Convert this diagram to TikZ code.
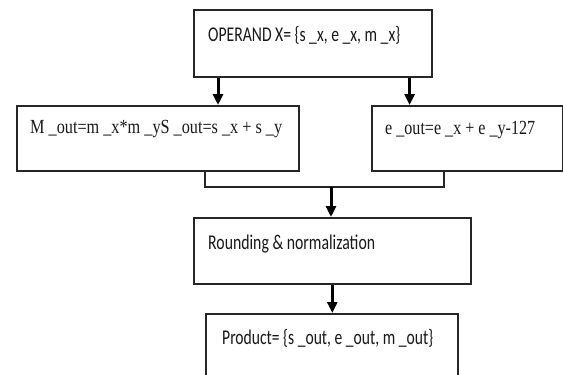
\documentclass[tikz,border=0pt]{standalone}
\usepackage{fontspec}
\usepackage{graphicx}
\setmainfont{Liberation Serif}
\newfontfamily\carlfont{Carlito}
\usetikzlibrary{arrows.meta,calc}
\tikzset{
  box/.style={draw=black!85, line width=1.6pt, rectangle, inner sep=0pt, anchor=north west},
  txt/.style={inner sep=0pt, anchor=base west, text=black!90},
  conn/.style={draw=black!85, line width=1.6pt},
  arr/.style={draw=black, line width=3pt, -{Triangle[width=10pt,length=11pt]}},
}
\begin{document}
\begin{tikzpicture}[x=1pt,y=-1pt]
\useasboundingbox (0,0) rectangle (563,375);
\clip (0,0) rectangle (563,375);
\fill[white] (0,0) rectangle (563,375);
% boxes
\node[box, minimum width=238pt, minimum height=67pt] (top) at (193,9) {};
\node[box, minimum width=282pt, minimum height=65pt] (L) at (16,105) {};
\node[box, minimum width=191pt, minimum height=65pt] (R) at (371,105) {};
\node[box, minimum width=277pt, minimum height=66pt] (Rnd) at (193,217) {};
\node[box, minimum width=252pt, minimum height=80pt] (P) at (205,313) {};
% texts
\node[txt] (ttop) at (208,41) {\resizebox{192pt}{\height}{\fontsize{21}{24}\carlfont OPERAND X= \{s \_x, e \_x, m \_x\}}};
\node[txt] (tL) at (30,133) {\resizebox{252pt}{\height}{\fontsize{20}{22}\selectfont M \_out=m \_x*m \_yS \_out=s \_x + s \_y}};
\node[txt] (tR) at (385,134) {\resizebox{150pt}{\height}{\fontsize{20}{22}\selectfont e \_out=e \_x + e \_y-127}};
\node[txt] (tRnd) at (208,249) {\resizebox{167pt}{\height}{\fontsize{21}{24}\carlfont Rounding \& normalization}};
\node[txt] (tP) at (222,344) {\resizebox{211pt}{\height}{\fontsize{21}{24}\carlfont Product= \{s \_out, e \_out, m \_out\}}};
% connectors
\coordinate (J) at (331,187);
\draw[arr] ([xshift=25pt]top.south west) -- ([xshift=25pt]top.south west |- L.north);
\draw[arr] ([xshift=-23pt]top.south east) -- ([xshift=-23pt]top.south east |- R.north);
\draw[conn] ([xshift=189pt]L.south west) |- (J) -| ([xshift=73pt]R.south west);
\draw[arr] (J) -- (J |- Rnd.north);
\draw[arr] (Rnd.south) -- (Rnd.south |- P.north);
\end{tikzpicture}
\end{document}
